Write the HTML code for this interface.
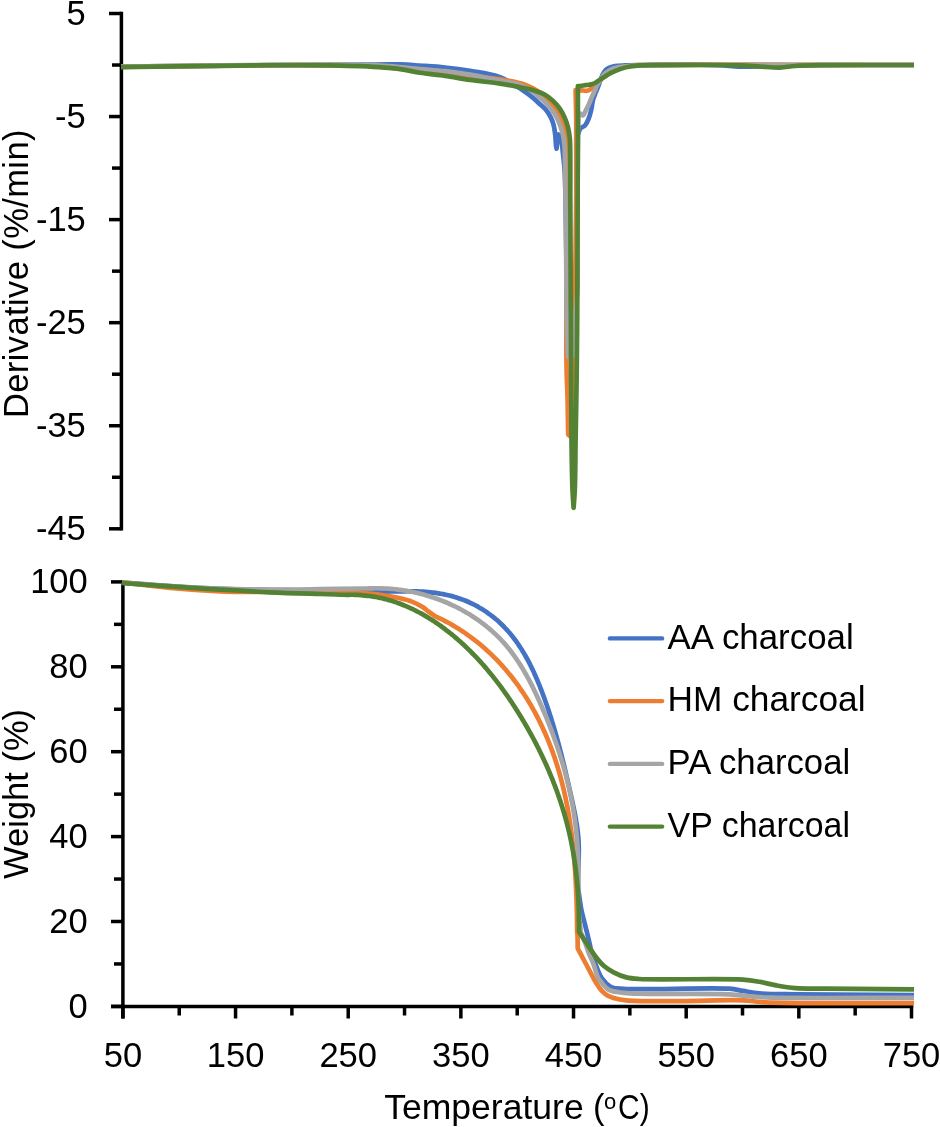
<!DOCTYPE html>
<html><head><meta charset="utf-8"><title>TGA / DTG charcoal</title>
<style>
html,body{margin:0;padding:0;background:#fff;}
body{width:940px;height:1127px;overflow:hidden;}
svg{display:block;will-change:transform;}
text{font-family:"Liberation Sans",sans-serif;fill:#000;}
</style></head><body>
<svg width="940" height="1127" viewBox="0 0 940 1127">
<rect width="940" height="1127" fill="#fff"/>

<g stroke="#000" stroke-width="3.5" fill="none">
<line x1="121.4" y1="11.75" x2="121.4" y2="530.55"/>
<line x1="109" y1="13.50" x2="121.4" y2="13.50"/>
<line x1="109" y1="116.56" x2="121.4" y2="116.56"/>
<line x1="109" y1="219.62" x2="121.4" y2="219.62"/>
<line x1="109" y1="322.68" x2="121.4" y2="322.68"/>
<line x1="109" y1="425.74" x2="121.4" y2="425.74"/>
<line x1="109" y1="528.80" x2="121.4" y2="528.80"/>
<line x1="112" y1="65.03" x2="121.4" y2="65.03"/>
<line x1="112" y1="168.09" x2="121.4" y2="168.09"/>
<line x1="112" y1="271.15" x2="121.4" y2="271.15"/>
<line x1="112" y1="374.21" x2="121.4" y2="374.21"/>
<line x1="112" y1="477.27" x2="121.4" y2="477.27"/>
<line x1="122.9" y1="580.15" x2="122.9" y2="1018.5"/>
<line x1="111" y1="1006.4" x2="913.25" y2="1006.4"/>
<line x1="111" y1="1006.40" x2="122.9" y2="1006.40"/>
<line x1="111" y1="921.50" x2="122.9" y2="921.50"/>
<line x1="111" y1="836.60" x2="122.9" y2="836.60"/>
<line x1="111" y1="751.70" x2="122.9" y2="751.70"/>
<line x1="111" y1="666.80" x2="122.9" y2="666.80"/>
<line x1="111" y1="581.90" x2="122.9" y2="581.90"/>
<line x1="114" y1="963.95" x2="122.9" y2="963.95"/>
<line x1="114" y1="879.05" x2="122.9" y2="879.05"/>
<line x1="114" y1="794.15" x2="122.9" y2="794.15"/>
<line x1="114" y1="709.25" x2="122.9" y2="709.25"/>
<line x1="114" y1="624.35" x2="122.9" y2="624.35"/>
<line x1="122.90" y1="1006.4" x2="122.90" y2="1018.5"/>
<line x1="235.56" y1="1006.4" x2="235.56" y2="1018.5"/>
<line x1="348.21" y1="1006.4" x2="348.21" y2="1018.5"/>
<line x1="460.87" y1="1006.4" x2="460.87" y2="1018.5"/>
<line x1="573.53" y1="1006.4" x2="573.53" y2="1018.5"/>
<line x1="686.19" y1="1006.4" x2="686.19" y2="1018.5"/>
<line x1="798.84" y1="1006.4" x2="798.84" y2="1018.5"/>
<line x1="911.50" y1="1006.4" x2="911.50" y2="1018.5"/>
<line x1="179.23" y1="1006.4" x2="179.23" y2="1015.5"/>
<line x1="291.89" y1="1006.4" x2="291.89" y2="1015.5"/>
<line x1="404.54" y1="1006.4" x2="404.54" y2="1015.5"/>
<line x1="517.20" y1="1006.4" x2="517.20" y2="1015.5"/>
<line x1="629.86" y1="1006.4" x2="629.86" y2="1015.5"/>
<line x1="742.51" y1="1006.4" x2="742.51" y2="1015.5"/>
<line x1="855.17" y1="1006.4" x2="855.17" y2="1015.5"/>
</g>
<g>
<path fill="none" stroke="#4472C4" stroke-width="4.7" stroke-linejoin="round" stroke-linecap="butt" d="M121.00,66.80C147.33,66.47 172.12,66.09 200.00,65.80C231.37,65.48 268.84,65.21 300.00,65.00C327.34,64.82 358.86,64.73 377.00,64.60C386.91,64.53 392.60,64.21 400.00,64.40C406.90,64.58 412.96,65.12 420.00,65.60C427.87,66.14 436.68,66.62 445.00,67.50C453.35,68.38 461.32,69.40 470.00,70.90C479.57,72.55 491.08,73.84 500.00,77.20C507.96,80.20 515.22,85.26 521.30,89.20C526.19,92.37 530.62,95.76 534.00,98.60C536.45,100.65 538.03,102.47 540.00,104.30C541.86,106.03 543.80,107.31 545.50,109.30C547.44,111.57 549.42,114.66 550.80,117.40C552.06,119.90 552.88,122.28 553.60,125.00C554.39,127.98 554.79,131.22 555.20,134.60C555.65,138.34 555.80,142.53 556.10,146.50C556.27,147.20 556.43,147.90 556.60,148.60C556.87,146.07 557.05,143.43 557.40,141.00C557.73,138.74 558.20,136.67 558.60,134.50C559.17,135.50 559.81,136.31 560.30,137.50C560.93,139.03 561.40,140.88 561.80,143.00C562.34,145.82 562.50,149.23 562.90,153.00C563.42,157.92 564.15,162.83 564.60,170.00C565.37,182.27 565.57,202.57 565.90,220.00C566.26,239.09 566.37,260.91 566.60,280.00C566.81,297.43 566.79,316.71 567.20,330.00C567.47,338.82 567.93,344.67 568.30,352.00C569.53,352.00 570.96,352.97 572.00,352.00C575.90,348.35 574.64,320.15 575.50,300.00C576.69,272.08 576.92,229.76 577.30,200.00C577.61,176.01 577.63,156.67 577.80,135.00C578.67,132.83 579.07,130.12 580.40,128.50C581.57,127.07 583.71,126.90 585.00,125.50C586.49,123.87 587.51,121.40 588.50,119.00C589.62,116.29 590.46,113.10 591.20,110.00C591.97,106.78 592.20,103.01 593.00,100.00C593.69,97.43 594.64,95.23 595.50,93.00C596.31,90.91 597.19,89.09 598.00,87.00C598.86,84.77 599.64,82.23 600.50,80.00C601.31,77.91 602.01,75.77 603.00,74.00C603.88,72.42 604.80,70.93 606.00,69.80C607.15,68.72 608.54,67.93 610.00,67.30C611.53,66.64 613.03,66.31 615.00,66.00C617.74,65.57 621.33,65.55 625.00,65.40C629.49,65.22 633.33,65.19 640.00,65.10C653.33,64.92 685.36,64.57 700.00,64.70C708.45,64.78 713.34,64.88 720.00,65.20C726.67,65.52 733.33,66.42 740.00,66.60C746.66,66.78 752.66,66.48 760.00,66.30C768.99,66.08 776.59,65.54 790.00,65.30C817.25,64.81 872.67,65.10 914.00,65.00"/>
<path fill="none" stroke="#ED7D31" stroke-width="4.7" stroke-linejoin="round" stroke-linecap="butt" d="M121.00,66.60C147.33,66.33 172.12,66.02 200.00,65.80C231.37,65.55 268.52,65.14 300.00,65.20C328.15,65.26 357.94,64.52 380.00,66.00C395.66,67.05 408.21,69.79 420.00,71.00C429.30,71.95 436.68,72.13 445.00,73.00C453.34,73.87 461.28,75.19 470.00,76.20C479.54,77.30 490.45,77.76 500.00,79.30C508.89,80.73 518.34,82.29 525.50,84.90C531.17,86.97 535.83,89.66 540.00,92.50C543.63,94.97 546.52,97.43 549.40,100.60C552.53,104.05 555.69,108.52 557.90,112.60C559.92,116.33 561.09,120.24 562.40,124.00C563.64,127.57 564.80,131.03 565.60,134.60C566.39,138.13 566.88,140.98 567.20,145.30C567.68,151.82 567.29,161.37 567.20,170.00C567.10,179.51 566.74,187.08 566.60,200.00C566.34,223.59 566.46,276.41 566.40,300.00C566.37,312.92 566.28,319.28 566.30,330.00C566.33,342.38 566.35,357.63 566.60,370.00C566.82,380.72 567.36,390.45 567.60,400.00C567.81,408.71 567.88,418.64 568.00,425.00C568.07,428.92 568.13,431.33 568.20,434.50C568.73,435.00 569.27,435.50 569.80,436.00C571.00,433.67 572.59,432.26 573.40,429.00C574.96,422.74 573.66,412.07 573.80,400.00C574.04,379.96 574.26,349.36 574.60,320.00C575.02,284.04 575.96,235.96 576.20,200.00C576.40,170.64 576.40,140.26 576.20,120.00C576.08,107.60 575.80,100.00 575.60,90.00C577.50,90.10 579.38,90.18 581.30,90.30C583.25,90.42 585.35,91.06 587.20,90.70C589.01,90.34 590.81,89.26 592.30,88.20C593.73,87.18 594.74,85.76 596.00,84.50C597.31,83.19 598.59,81.91 600.00,80.50C601.57,78.93 603.27,76.95 605.00,75.50C606.61,74.15 607.97,73.10 610.00,72.00C612.69,70.54 616.62,69.00 620.00,68.00C623.29,67.02 626.65,66.47 630.00,66.00C633.32,65.54 634.40,65.43 640.00,65.20C669.29,64.02 822.67,65.07 914.00,65.00"/>
<path fill="none" stroke="#A5A5A5" stroke-width="4.7" stroke-linejoin="round" stroke-linecap="butt" d="M121.00,66.60C147.33,66.27 172.12,65.86 200.00,65.60C231.37,65.31 268.52,65.00 300.00,65.00C328.15,65.00 357.93,64.47 380.00,65.50C395.64,66.23 408.23,67.97 420.00,69.00C429.31,69.82 436.68,70.27 445.00,71.20C453.34,72.13 461.31,73.14 470.00,74.60C479.57,76.21 491.41,78.88 500.00,80.60C506.47,81.89 511.81,82.37 517.00,84.00C521.65,85.46 525.89,87.33 529.80,89.60C533.53,91.77 536.90,94.50 540.00,97.20C542.93,99.75 545.43,102.32 548.00,105.30C550.78,108.53 553.91,112.41 556.00,116.00C557.85,119.18 559.03,122.42 560.20,125.60C561.31,128.61 562.19,131.44 562.90,134.60C563.66,137.99 564.15,141.44 564.50,145.30C564.91,149.80 564.86,153.90 565.00,160.00C565.23,170.06 565.32,185.32 565.50,200.00C565.72,217.98 566.00,240.00 566.20,260.00C566.40,280.00 566.42,305.36 566.70,320.00C566.86,328.45 567.05,333.64 567.30,340.00C567.53,345.79 567.83,351.07 568.10,356.60C569.93,356.23 571.77,355.87 573.60,355.50C573.73,347.00 573.72,336.10 574.00,330.00C574.16,326.58 574.40,324.67 574.60,322.00C575.53,311.33 576.89,301.27 577.40,290.00C577.97,277.42 577.44,266.91 577.50,250.00C577.60,220.72 577.55,151.15 578.00,130.00C578.16,122.40 578.40,119.67 578.60,114.50C579.20,114.23 579.76,113.65 580.40,113.70C581.20,113.76 582.20,115.60 583.00,115.40C584.13,115.12 585.10,111.67 586.00,110.00C586.77,108.57 587.40,107.49 588.10,106.00C588.94,104.22 589.85,101.81 590.60,100.00C591.22,98.50 591.64,97.38 592.30,95.90C593.10,94.10 594.32,91.72 595.10,90.00C595.69,88.69 595.92,87.86 596.60,86.50C597.62,84.45 599.41,81.27 600.90,79.00C602.22,76.98 603.43,75.03 605.00,73.50C606.48,72.06 608.28,70.93 610.00,70.00C611.62,69.13 613.01,68.56 615.00,68.00C617.73,67.23 621.32,66.73 625.00,66.30C629.48,65.77 631.89,65.57 640.00,65.30C674.63,64.13 822.67,65.10 914.00,65.00"/>
<path fill="none" stroke="#548235" stroke-width="4.7" stroke-linejoin="round" stroke-linecap="butt" d="M121.00,67.10C154.00,66.67 191.11,66.16 220.00,65.80C242.49,65.52 260.91,65.17 280.00,65.10C297.43,65.03 315.45,65.05 330.00,65.30C341.27,65.49 349.29,65.65 360.00,66.20C372.38,66.83 388.99,67.69 400.00,69.10C407.84,70.11 412.94,71.73 420.00,72.80C427.85,74.00 436.68,74.62 445.00,75.80C453.35,76.98 461.27,78.65 470.00,79.90C479.53,81.27 491.42,82.32 500.00,83.60C506.48,84.57 511.35,85.47 517.00,86.60C522.68,87.74 529.00,88.87 534.00,90.40C538.12,91.66 541.76,92.89 545.00,94.70C547.95,96.35 550.39,98.37 552.80,100.60C555.27,102.89 557.63,105.48 559.60,108.30C561.61,111.17 563.28,114.44 564.70,117.70C566.12,120.97 567.25,124.47 568.10,127.90C568.94,131.27 569.42,134.04 569.80,138.10C570.36,144.01 570.20,151.61 570.30,160.00C570.43,171.34 570.26,183.09 570.30,200.00C570.37,229.28 570.70,280.00 570.90,320.00C571.10,360.00 571.11,408.62 571.50,440.00C571.75,460.26 571.99,477.55 572.50,490.00C572.80,497.44 573.23,501.87 573.60,507.80C574.00,501.87 574.49,497.44 574.80,490.00C575.32,477.55 575.32,457.43 575.60,440.00C575.91,420.91 576.33,400.00 576.60,380.00C576.87,360.00 577.04,343.43 577.20,320.00C577.42,286.86 577.48,231.38 577.60,200.00C577.67,179.74 577.75,167.69 577.80,150.00C577.86,129.98 577.87,107.33 577.90,86.00C578.60,86.00 579.14,86.06 580.00,86.00C581.40,85.90 583.76,85.44 585.50,85.20C587.07,84.98 588.48,84.94 590.00,84.60C591.64,84.23 593.39,83.79 595.00,83.00C596.73,82.16 598.32,80.69 600.00,79.60C601.66,78.52 603.33,77.53 605.00,76.50C606.67,75.47 608.00,74.44 610.00,73.40C612.72,71.98 616.62,70.26 620.00,69.10C623.29,67.97 626.65,67.13 630.00,66.50C633.31,65.87 636.09,65.55 640.00,65.30C645.51,64.94 651.11,65.13 660.00,65.10C677.78,65.03 722.23,64.75 740.00,65.30C748.89,65.58 753.33,66.12 760.00,66.50C766.67,66.88 773.82,67.76 780.00,67.60C785.36,67.46 789.36,66.39 795.00,66.00C802.27,65.50 809.00,65.39 820.00,65.20C841.32,64.84 882.67,65.07 914.00,65.00"/>
<path fill="none" stroke="#4472C4" stroke-width="4.7" stroke-linejoin="round" stroke-linecap="butt" d="M121.90,582.60C137.93,583.80 153.81,585.16 170.00,586.20C186.50,587.26 203.33,588.27 220.00,588.90C236.66,589.53 253.33,589.73 270.00,590.00C286.67,590.27 303.77,590.27 320.00,590.50C335.40,590.71 359.24,591.02 365.00,591.30C366.37,591.37 366.69,591.46 367.54,591.51C368.38,591.55 369.22,591.56 370.06,591.58C370.90,591.60 371.74,591.61 372.59,591.63C373.43,591.64 374.27,591.65 375.11,591.65C375.95,591.66 376.79,591.66 377.63,591.66C378.48,591.66 379.32,591.66 380.16,591.65C381.00,591.65 381.84,591.64 382.68,591.63C383.53,591.62 384.37,591.61 385.21,591.59C386.05,591.58 386.89,591.57 387.73,591.55C388.58,591.54 389.42,591.52 390.26,591.51C391.10,591.49 391.94,591.47 392.79,591.46C393.63,591.44 394.47,591.42 395.31,591.41C396.16,591.39 397.00,591.38 397.84,591.36C398.68,591.35 399.52,591.34 400.37,591.32C401.21,591.31 402.05,591.30 402.89,591.29C403.73,591.29 404.58,591.28 405.42,591.28C406.26,591.27 407.10,591.27 407.95,591.27C408.79,591.27 409.63,591.28 410.47,591.29C411.31,591.29 412.16,591.30 413.00,591.32C413.84,591.33 414.68,591.35 415.53,591.38C416.37,591.40 417.21,591.42 418.05,591.46C418.89,591.49 419.74,591.53 420.58,591.57C421.42,591.61 422.26,591.66 423.10,591.71C423.95,591.76 424.79,591.82 425.63,591.88C426.47,591.95 427.31,592.02 428.15,592.09C429.00,592.17 429.84,592.25 430.68,592.34C431.52,592.43 432.35,592.52 433.19,592.63C434.03,592.73 434.87,592.84 435.70,592.95C436.54,593.07 437.38,593.19 438.21,593.32C439.04,593.45 439.88,593.58 440.71,593.73C441.54,593.87 442.37,594.02 443.20,594.18C444.03,594.34 444.85,594.51 445.68,594.68C446.50,594.86 447.33,595.04 448.15,595.23C448.97,595.42 449.79,595.62 450.61,595.83C451.42,596.04 452.24,596.25 453.05,596.48C453.86,596.70 454.67,596.94 455.48,597.18C456.29,597.42 457.09,597.67 457.89,597.93C458.69,598.19 459.49,598.46 460.29,598.74C461.09,599.02 461.88,599.31 462.67,599.61C463.46,599.91 464.24,600.21 465.03,600.53C465.81,600.85 466.59,601.17 467.37,601.51C468.14,601.84 468.92,602.18 469.68,602.54C470.45,602.89 471.22,603.25 471.98,603.62C472.74,603.99 473.50,604.37 474.25,604.75C475.00,605.14 475.75,605.54 476.49,605.94C477.24,606.34 477.98,606.75 478.71,607.17C479.45,607.59 480.18,608.02 480.90,608.46C481.62,608.89 482.34,609.34 483.06,609.79C483.77,610.24 484.48,610.70 485.19,611.16C485.89,611.63 486.59,612.10 487.28,612.59C487.98,613.07 488.67,613.56 489.35,614.05C490.03,614.55 490.71,615.05 491.38,615.57C492.05,616.08 492.71,616.59 493.37,617.12C494.03,617.64 494.68,618.18 495.32,618.71C495.97,619.25 496.61,619.80 497.24,620.35C497.87,620.90 498.50,621.46 499.12,622.02C499.73,622.59 500.35,623.16 500.95,623.74C501.56,624.32 502.15,624.90 502.75,625.49C503.34,626.08 503.92,626.68 504.50,627.28C505.08,627.88 505.65,628.49 506.21,629.10C506.78,629.71 507.34,630.33 507.89,630.96C508.44,631.58 508.98,632.21 509.52,632.85C510.06,633.49 510.60,634.13 511.12,634.77C511.65,635.42 512.17,636.07 512.69,636.73C513.20,637.38 513.71,638.05 514.21,638.71C514.72,639.38 515.21,640.05 515.70,640.72C516.20,641.40 516.68,642.08 517.16,642.77C517.64,643.45 518.12,644.14 518.59,644.83C519.06,645.53 519.52,646.23 519.98,646.93C520.44,647.63 520.89,648.34 521.34,649.05C521.79,649.76 522.23,650.47 522.67,651.19C523.11,651.91 523.54,652.63 523.97,653.35C524.40,654.08 524.82,654.81 525.24,655.54C525.66,656.27 526.07,657.01 526.48,657.75C526.89,658.49 527.29,659.23 527.69,659.97C528.09,660.72 528.49,661.47 528.88,662.22C529.27,662.97 529.66,663.72 530.04,664.48C530.42,665.24 530.80,666.00 531.18,666.76C531.55,667.52 531.92,668.29 532.29,669.05C532.65,669.82 533.02,670.59 533.37,671.36C533.73,672.13 534.09,672.90 534.44,673.68C534.79,674.46 535.14,675.23 535.48,676.01C535.83,676.79 536.17,677.57 536.50,678.36C536.84,679.14 537.17,679.92 537.50,680.71C537.83,681.49 538.16,682.28 538.48,683.07C538.81,683.86 539.13,684.65 539.45,685.44C539.76,686.23 540.08,687.02 540.39,687.82C540.70,688.61 541.01,689.40 541.32,690.20C541.62,690.99 541.93,691.79 542.23,692.58C542.53,693.38 542.83,694.18 543.12,694.97C543.42,695.77 543.71,696.57 544.00,697.37C544.29,698.16 544.58,698.96 544.87,699.76C545.16,700.56 545.44,701.36 545.72,702.16C546.00,702.96 546.28,703.76 546.56,704.56C546.83,705.36 547.11,706.16 547.38,706.96C547.65,707.76 547.92,708.56 548.19,709.36C548.46,710.16 548.73,710.96 548.99,711.77C549.25,712.57 549.52,713.37 549.78,714.17C550.04,714.98 550.29,715.78 550.55,716.58C550.81,717.39 551.06,718.19 551.31,718.99C551.56,719.80 551.81,720.60 552.06,721.41C552.31,722.21 552.56,723.02 552.80,723.82C553.04,724.63 553.29,725.44 553.53,726.24C553.77,727.05 554.01,727.85 554.24,728.66C554.48,729.47 554.72,730.28 554.95,731.08C555.19,731.89 555.42,732.70 555.65,733.51C555.88,734.32 556.11,735.12 556.34,735.93C556.56,736.74 556.79,737.55 557.01,738.36C557.24,739.17 557.46,739.98 557.68,740.79C557.90,741.60 558.12,742.41 558.34,743.22C558.56,744.03 558.78,744.84 559.00,745.65C559.21,746.47 559.43,747.28 559.64,748.09C559.85,748.90 560.07,749.71 560.28,750.53C560.49,751.34 560.70,752.15 560.91,752.96C561.11,753.78 561.32,754.59 561.53,755.40C561.73,756.22 561.94,757.03 562.14,757.85C562.35,758.66 562.55,759.47 562.75,760.29C562.95,761.10 563.15,761.92 563.35,762.73C563.56,763.55 563.75,764.36 563.95,765.18C564.15,766.00 564.35,766.81 564.54,767.63C564.74,768.44 564.94,769.26 565.13,770.08C565.33,770.90 565.52,771.71 565.71,772.53C565.91,773.35 566.10,774.16 566.29,774.98C566.48,775.80 566.67,776.62 566.86,777.44C567.06,778.25 567.24,779.07 567.43,779.89C567.62,780.71 567.81,781.53 568.00,782.35C568.19,783.17 568.38,783.99 568.56,784.81C568.75,785.63 568.94,786.45 569.12,787.27C569.31,788.09 569.50,788.91 569.68,789.73C569.87,790.55 570.05,791.37 570.24,792.19C570.42,793.01 570.61,793.83 570.79,794.66C570.98,795.48 571.16,796.30 571.34,797.12C571.53,797.94 571.71,798.76 571.89,799.59C572.08,800.41 572.26,801.23 572.44,802.06C572.62,802.88 572.80,803.70 572.97,804.53C573.15,805.35 573.32,806.17 573.50,807.00C573.67,807.82 573.84,808.65 574.01,809.47C574.18,810.30 574.35,811.12 574.51,811.95C574.67,812.77 574.84,813.60 574.99,814.42C575.15,815.25 575.31,816.08 575.46,816.91C575.61,817.73 575.76,818.56 575.90,819.39C576.04,820.22 576.18,821.05 576.32,821.88C576.46,822.70 576.59,823.53 576.71,824.36C576.84,825.20 576.96,826.03 577.08,826.86C577.20,827.69 577.31,828.52 577.42,829.35C577.53,830.19 577.63,831.02 577.72,831.85C577.82,832.69 577.91,833.52 577.99,834.36C578.08,835.19 578.16,836.03 578.23,836.86C578.30,837.70 578.37,838.54 578.43,839.37C578.48,840.21 578.54,841.05 578.58,841.89C578.63,842.73 578.66,843.57 578.69,844.41C578.73,845.25 578.75,846.09 578.76,846.93C578.78,847.77 578.79,848.61 578.79,849.46C578.79,850.30 578.79,851.14 578.78,851.99C578.78,852.83 578.76,853.68 578.75,854.52C578.73,855.37 578.71,856.21 578.68,857.06C578.66,857.90 578.63,858.75 578.60,859.60C578.58,860.44 578.54,861.29 578.51,862.14C578.48,862.98 578.45,863.83 578.41,864.68C578.38,865.52 578.34,866.37 578.31,867.22C578.28,868.06 578.25,868.91 578.22,869.76C578.18,870.60 578.16,871.45 578.13,872.30C578.10,873.14 578.08,873.99 578.06,874.84C578.04,875.68 578.02,876.53 578.01,877.37C578.00,878.22 577.99,879.06 577.99,879.91C577.99,880.75 577.99,881.59 578.00,882.44C578.01,883.28 578.03,884.12 578.05,884.97C578.07,885.81 578.08,886.65 578.14,887.49C578.20,888.33 578.31,889.16 578.40,890.00C579.40,896.67 580.24,904.14 581.40,910.00C582.33,914.68 583.37,917.91 584.50,922.50C585.88,928.11 587.77,935.55 589.10,941.20C590.20,945.86 590.85,949.95 592.00,954.00C593.07,957.76 594.19,960.93 595.70,964.70C597.46,969.09 599.32,974.86 602.10,978.70C604.58,982.12 607.54,985.29 611.10,987.00C614.75,988.75 617.49,988.44 623.80,988.90C641.88,990.23 710.56,987.24 729.20,988.70C735.99,989.23 738.19,990.15 743.00,990.90C748.28,991.72 752.89,992.82 759.60,993.40C769.79,994.28 781.95,994.05 798.30,994.30C826.56,994.74 875.43,994.90 914.00,995.20"/>
<path fill="none" stroke="#ED7D31" stroke-width="4.7" stroke-linejoin="round" stroke-linecap="butt" d="M121.90,582.30C137.93,584.20 153.79,586.51 170.00,588.00C186.49,589.52 202.56,590.62 220.00,591.30C239.08,592.04 262.82,591.87 280.00,592.00C292.93,592.09 302.67,592.02 314.00,592.10C325.33,592.18 338.61,592.20 348.00,592.50C354.64,592.71 359.34,592.97 365.00,593.40C370.67,593.83 376.35,594.34 382.00,595.10C387.68,595.87 393.75,596.82 399.00,598.00C403.62,599.04 407.88,600.02 411.90,601.60C415.71,603.09 419.72,605.27 422.60,607.10C424.75,608.47 426.11,609.90 427.90,611.20C429.65,612.47 431.95,613.89 433.20,614.80C433.91,615.32 434.22,615.70 434.84,616.08C435.54,616.50 436.43,616.80 437.23,617.17C438.02,617.54 438.81,617.92 439.59,618.30C440.38,618.68 441.16,619.06 441.94,619.45C442.72,619.84 443.49,620.23 444.26,620.63C445.03,621.03 445.80,621.43 446.56,621.84C447.32,622.24 448.08,622.65 448.83,623.07C449.59,623.48 450.34,623.90 451.09,624.33C451.83,624.75 452.58,625.18 453.32,625.61C454.06,626.05 454.79,626.48 455.53,626.92C456.26,627.37 456.99,627.81 457.71,628.26C458.44,628.71 459.16,629.16 459.87,629.62C460.59,630.08 461.30,630.54 462.01,631.01C462.72,631.47 463.43,631.94 464.13,632.42C464.83,632.89 465.53,633.37 466.23,633.85C466.92,634.34 467.61,634.82 468.30,635.31C468.99,635.80 469.67,636.30 470.35,636.80C471.03,637.29 471.71,637.79 472.38,638.30C473.05,638.81 473.72,639.32 474.39,639.83C475.05,640.34 475.72,640.86 476.37,641.38C477.03,641.90 477.69,642.43 478.34,642.96C478.99,643.48 479.64,644.02 480.28,644.55C480.92,645.09 481.56,645.63 482.20,646.17C482.83,646.71 483.47,647.26 484.10,647.81C484.72,648.36 485.35,648.91 485.97,649.47C486.59,650.03 487.21,650.59 487.83,651.15C488.44,651.72 489.05,652.29 489.66,652.86C490.27,653.43 490.87,654.00 491.47,654.58C492.07,655.16 492.67,655.74 493.26,656.33C493.85,656.91 494.44,657.50 495.03,658.09C495.61,658.68 496.19,659.28 496.77,659.87C497.35,660.47 497.93,661.07 498.50,661.68C499.07,662.28 499.64,662.89 500.20,663.50C500.76,664.11 501.32,664.72 501.88,665.34C502.44,665.96 502.99,666.58 503.54,667.20C504.09,667.82 504.64,668.45 505.18,669.08C505.73,669.71 506.27,670.34 506.80,670.97C507.34,671.61 507.87,672.25 508.40,672.89C508.93,673.53 509.45,674.17 509.97,674.82C510.50,675.47 511.02,676.12 511.53,676.77C512.05,677.42 512.56,678.08 513.06,678.73C513.57,679.39 514.08,680.05 514.58,680.71C515.08,681.38 515.58,682.04 516.07,682.71C516.56,683.38 517.06,684.05 517.54,684.73C518.03,685.40 518.51,686.08 518.99,686.76C519.47,687.43 519.95,688.12 520.42,688.80C520.90,689.49 521.37,690.17 521.83,690.86C522.30,691.55 522.76,692.24 523.22,692.94C523.68,693.63 524.14,694.33 524.59,695.03C525.04,695.72 525.49,696.43 525.94,697.13C526.39,697.83 526.83,698.54 527.27,699.25C527.71,699.96 528.14,700.67 528.57,701.38C529.01,702.09 529.44,702.81 529.86,703.52C530.29,704.24 530.71,704.96 531.13,705.68C531.55,706.40 531.96,707.13 532.38,707.85C532.79,708.58 533.20,709.31 533.60,710.04C534.01,710.77 534.41,711.50 534.81,712.23C535.21,712.97 535.60,713.70 535.99,714.44C536.39,715.18 536.78,715.92 537.16,716.66C537.55,717.40 537.93,718.15 538.31,718.89C538.69,719.64 539.06,720.38 539.43,721.13C539.81,721.88 540.17,722.63 540.54,723.39C540.91,724.14 541.27,724.89 541.63,725.65C541.99,726.41 542.34,727.16 542.69,727.92C543.05,728.68 543.40,729.44 543.74,730.21C544.09,730.97 544.43,731.73 544.77,732.50C545.11,733.27 545.44,734.03 545.78,734.80C546.11,735.57 546.44,736.34 546.77,737.12C547.09,737.89 547.41,738.66 547.73,739.44C548.05,740.21 548.37,740.99 548.68,741.77C549.00,742.55 549.31,743.32 549.61,744.11C549.92,744.89 550.22,745.67 550.52,746.45C550.83,747.23 551.12,748.02 551.42,748.81C551.71,749.59 552.00,750.38 552.29,751.17C552.58,751.95 552.86,752.74 553.14,753.53C553.42,754.33 553.70,755.12 553.98,755.91C554.25,756.70 554.52,757.50 554.79,758.29C555.06,759.09 555.32,759.88 555.59,760.68C555.85,761.48 556.11,762.28 556.36,763.07C556.62,763.87 556.87,764.67 557.12,765.48C557.37,766.28 557.62,767.08 557.86,767.88C558.10,768.68 558.35,769.49 558.58,770.29C558.82,771.10 559.05,771.90 559.29,772.71C559.52,773.52 559.74,774.32 559.97,775.13C560.20,775.94 560.42,776.75 560.64,777.56C560.86,778.37 561.07,779.18 561.29,779.99C561.50,780.80 561.71,781.61 561.92,782.43C562.13,783.24 562.33,784.05 562.54,784.87C562.74,785.68 562.94,786.50 563.13,787.31C563.33,788.13 563.53,788.95 563.72,789.76C563.91,790.58 564.10,791.40 564.28,792.22C564.47,793.04 564.65,793.86 564.83,794.68C565.01,795.50 565.19,796.32 565.37,797.14C565.54,797.96 565.72,798.79 565.89,799.61C566.06,800.43 566.22,801.25 566.39,802.08C566.55,802.90 566.72,803.73 566.88,804.55C567.04,805.38 567.20,806.20 567.35,807.03C567.51,807.86 567.66,808.68 567.81,809.51C567.96,810.34 568.11,811.17 568.25,812.00C568.40,812.82 568.54,813.65 568.68,814.48C568.82,815.31 568.96,816.14 569.10,816.97C569.24,817.80 569.37,818.63 569.50,819.47C569.63,820.30 569.76,821.13 569.89,821.96C570.02,822.79 570.14,823.63 570.27,824.46C570.39,825.29 570.51,826.13 570.63,826.96C570.75,827.79 570.86,828.63 570.98,829.46C571.09,830.30 571.20,831.13 571.31,831.97C571.43,832.80 571.53,833.64 571.64,834.47C571.75,835.31 571.85,836.14 571.95,836.98C572.05,837.82 572.16,838.65 572.25,839.49C572.35,840.33 572.45,841.16 572.54,842.00C572.64,842.84 572.73,843.68 572.82,844.51C572.91,845.35 573.00,846.19 573.09,847.03C573.17,847.87 573.26,848.70 573.34,849.54C573.43,850.38 573.51,851.22 573.59,852.06C573.67,852.90 573.75,853.74 573.82,854.58C573.90,855.41 573.97,856.25 574.05,857.09C574.12,857.93 574.19,858.77 574.26,859.61C574.33,860.45 574.40,861.29 574.47,862.13C574.53,862.97 574.60,863.81 574.66,864.65C574.73,865.49 574.79,866.33 574.85,867.17C574.91,868.01 574.97,868.85 575.02,869.69C575.08,870.53 575.14,871.37 575.19,872.21C575.25,873.04 575.30,873.88 575.35,874.72C575.40,875.56 575.45,876.40 575.50,877.24C575.55,878.08 575.60,878.92 575.65,879.76C575.69,880.60 575.74,881.44 575.78,882.28C575.82,883.11 575.87,883.95 575.91,884.79C575.95,885.63 575.99,886.47 576.03,887.31C576.07,888.14 576.10,888.98 576.14,889.82C576.18,890.66 576.21,891.50 576.25,892.33C576.28,893.17 576.31,894.01 576.35,894.84C576.38,895.68 576.41,896.52 576.44,897.35C576.47,898.19 576.50,899.03 576.53,899.86C576.55,900.70 576.58,901.53 576.61,902.37C576.63,903.20 576.66,904.04 576.68,904.87C576.70,905.71 576.73,906.54 576.75,907.37C576.77,908.21 576.79,909.04 576.81,909.87C576.83,910.71 576.85,911.54 576.87,912.37C576.89,913.20 576.91,914.04 576.93,914.87C576.94,915.70 576.96,916.53 576.98,917.36C576.99,918.19 577.01,919.02 577.02,919.85C577.03,920.68 577.05,921.51 577.06,922.34C577.07,923.16 577.09,923.99 577.10,924.82C577.11,925.65 577.12,926.47 577.13,927.30C577.14,928.13 577.15,928.95 577.16,929.78C577.17,930.60 577.13,931.41 577.19,932.25C577.24,933.14 577.42,933.74 577.50,935.00C577.68,937.77 577.63,943.87 577.70,948.30C580.47,953.53 583.21,958.74 586.00,964.00C588.81,969.31 592.14,975.88 594.50,980.00C596.03,982.68 597.15,984.54 598.50,986.50C599.69,988.23 600.71,989.77 602.10,991.20C603.53,992.68 605.15,994.10 607.00,995.20C608.96,996.37 610.99,997.12 613.60,997.90C617.12,998.95 620.63,999.80 626.40,1000.40C638.09,1001.61 661.41,1001.10 680.00,1001.10C700.15,1001.10 727.39,999.66 743.00,1000.30C752.27,1000.68 754.45,1001.87 765.10,1002.40C792.69,1003.77 864.37,1002.87 914.00,1003.10"/>
<path fill="none" stroke="#A5A5A5" stroke-width="4.7" stroke-linejoin="round" stroke-linecap="butt" d="M121.90,582.50C137.93,583.67 153.81,584.97 170.00,586.00C186.50,587.05 203.33,588.10 220.00,588.70C236.66,589.30 253.33,589.52 270.00,589.60C286.67,589.68 303.77,589.39 320.00,589.20C335.40,589.02 359.23,588.55 365.00,588.50C366.37,588.49 366.70,588.51 367.55,588.49C368.39,588.47 369.23,588.41 370.08,588.38C370.92,588.35 371.76,588.33 372.60,588.31C373.45,588.29 374.29,588.28 375.13,588.27C375.97,588.27 376.82,588.27 377.66,588.27C378.50,588.28 379.34,588.29 380.18,588.31C381.03,588.32 381.87,588.35 382.71,588.38C383.55,588.41 384.39,588.44 385.23,588.48C386.07,588.52 386.91,588.57 387.75,588.63C388.59,588.68 389.43,588.74 390.27,588.80C391.11,588.87 391.94,588.94 392.78,589.02C393.62,589.09 394.45,589.17 395.29,589.26C396.13,589.35 396.96,589.45 397.80,589.55C398.63,589.65 399.46,589.75 400.30,589.87C401.13,589.98 401.96,590.09 402.79,590.22C403.62,590.34 404.45,590.47 405.28,590.61C406.11,590.74 406.94,590.88 407.77,591.03C408.59,591.18 409.42,591.33 410.25,591.49C411.07,591.65 411.90,591.81 412.72,591.98C413.54,592.15 414.36,592.33 415.18,592.51C416.00,592.69 416.82,592.88 417.64,593.07C418.46,593.27 419.27,593.47 420.09,593.67C420.90,593.88 421.72,594.09 422.53,594.30C423.34,594.52 424.15,594.74 424.96,594.97C425.77,595.20 426.58,595.43 427.38,595.67C428.19,595.91 428.99,596.16 429.80,596.41C430.60,596.66 431.40,596.91 432.20,597.18C433.00,597.44 433.80,597.71 434.59,597.98C435.39,598.25 436.18,598.53 436.98,598.82C437.77,599.10 438.56,599.39 439.35,599.69C440.13,599.99 440.92,600.29 441.70,600.59C442.49,600.90 443.27,601.22 444.05,601.53C444.83,601.85 445.61,602.18 446.38,602.51C447.16,602.84 447.93,603.17 448.71,603.51C449.48,603.85 450.25,604.20 451.01,604.55C451.78,604.91 452.54,605.26 453.31,605.63C454.07,605.99 454.83,606.36 455.59,606.74C456.34,607.11 457.10,607.49 457.85,607.88C458.60,608.26 459.35,608.65 460.10,609.05C460.85,609.45 461.59,609.85 462.33,610.26C463.08,610.66 463.81,611.08 464.55,611.50C465.29,611.92 466.02,612.34 466.75,612.77C467.48,613.20 468.21,613.64 468.93,614.08C469.65,614.52 470.38,614.96 471.09,615.41C471.81,615.86 472.52,616.32 473.23,616.78C473.94,617.25 474.65,617.71 475.35,618.19C476.06,618.66 476.75,619.14 477.45,619.62C478.14,620.10 478.84,620.59 479.52,621.08C480.21,621.58 480.89,622.08 481.57,622.58C482.25,623.08 482.92,623.59 483.59,624.11C484.26,624.62 484.93,625.14 485.59,625.66C486.25,626.19 486.91,626.72 487.56,627.25C488.21,627.79 488.86,628.33 489.50,628.87C490.14,629.42 490.78,629.97 491.41,630.52C492.04,631.07 492.67,631.63 493.29,632.20C493.91,632.76 494.53,633.33 495.14,633.91C495.75,634.48 496.36,635.06 496.96,635.65C497.56,636.23 498.15,636.82 498.74,637.41C499.33,638.01 499.91,638.60 500.49,639.21C501.06,639.81 501.63,640.42 502.20,641.03C502.76,641.65 503.32,642.26 503.88,642.89C504.43,643.51 504.98,644.13 505.52,644.77C506.07,645.40 506.60,646.03 507.14,646.67C507.67,647.31 508.19,647.95 508.72,648.60C509.24,649.25 509.75,649.90 510.27,650.56C510.78,651.22 511.28,651.88 511.78,652.54C512.29,653.20 512.78,653.87 513.27,654.54C513.76,655.22 514.25,655.89 514.73,656.57C515.22,657.25 515.69,657.93 516.17,658.62C516.64,659.30 517.11,659.99 517.57,660.69C518.03,661.38 518.49,662.08 518.95,662.78C519.40,663.48 519.85,664.18 520.30,664.88C520.75,665.59 521.19,666.30 521.63,667.01C522.07,667.72 522.50,668.44 522.93,669.16C523.36,669.87 523.79,670.60 524.21,671.32C524.64,672.04 525.05,672.77 525.47,673.50C525.89,674.23 526.30,674.96 526.71,675.69C527.11,676.43 527.52,677.16 527.92,677.90C528.32,678.64 528.72,679.38 529.11,680.12C529.51,680.87 529.90,681.61 530.29,682.36C530.68,683.11 531.06,683.86 531.45,684.61C531.83,685.36 532.21,686.11 532.58,686.87C532.96,687.63 533.33,688.38 533.70,689.14C534.08,689.90 534.44,690.66 534.81,691.42C535.18,692.19 535.54,692.95 535.90,693.72C536.26,694.48 536.62,695.25 536.97,696.02C537.33,696.78 537.68,697.55 538.03,698.32C538.38,699.09 538.73,699.87 539.08,700.64C539.43,701.41 539.77,702.19 540.12,702.96C540.46,703.73 540.80,704.51 541.14,705.29C541.48,706.06 541.81,706.84 542.15,707.62C542.49,708.40 542.82,709.18 543.15,709.96C543.48,710.73 543.81,711.51 544.14,712.30C544.47,713.08 544.80,713.86 545.12,714.64C545.45,715.42 545.77,716.20 546.09,716.99C546.42,717.77 546.74,718.56 547.05,719.34C547.37,720.12 547.69,720.91 548.00,721.70C548.32,722.48 548.63,723.27 548.94,724.06C549.25,724.84 549.56,725.63 549.86,726.42C550.17,727.21 550.48,728.00 550.78,728.79C551.08,729.58 551.38,730.37 551.68,731.16C551.98,731.95 552.28,732.74 552.57,733.54C552.87,734.33 553.16,735.12 553.45,735.91C553.74,736.71 554.03,737.50 554.31,738.30C554.60,739.09 554.88,739.89 555.17,740.68C555.45,741.48 555.73,742.28 556.01,743.07C556.29,743.87 556.56,744.67 556.83,745.47C557.11,746.27 557.38,747.07 557.65,747.86C557.92,748.66 558.18,749.46 558.45,750.27C558.71,751.07 558.98,751.87 559.24,752.67C559.50,753.47 559.75,754.27 560.01,755.08C560.27,755.88 560.52,756.68 560.77,757.49C561.02,758.29 561.27,759.10 561.51,759.90C561.76,760.71 562.00,761.51 562.25,762.32C562.49,763.13 562.73,763.93 562.96,764.74C563.20,765.55 563.43,766.36 563.67,767.17C563.90,767.98 564.13,768.78 564.35,769.59C564.58,770.40 564.80,771.21 565.02,772.03C565.25,772.84 565.47,773.65 565.68,774.46C565.90,775.27 566.11,776.08 566.32,776.90C566.53,777.71 566.74,778.52 566.95,779.34C567.16,780.15 567.36,780.97 567.56,781.78C567.76,782.60 567.96,783.41 568.15,784.23C568.35,785.04 568.54,785.86 568.73,786.68C568.92,787.49 569.11,788.31 569.29,789.13C569.48,789.95 569.66,790.77 569.84,791.58C570.02,792.40 570.20,793.22 570.37,794.04C570.54,794.86 570.71,795.68 570.88,796.50C571.05,797.32 571.21,798.15 571.38,798.97C571.54,799.79 571.70,800.61 571.85,801.43C572.01,802.26 572.16,803.08 572.31,803.90C572.46,804.73 572.61,805.55 572.76,806.38C572.90,807.20 573.04,808.03 573.18,808.85C573.32,809.68 573.45,810.50 573.59,811.33C573.72,812.16 573.85,812.98 573.98,813.81C574.10,814.64 574.23,815.46 574.35,816.29C574.47,817.12 574.59,817.95 574.70,818.78C574.82,819.61 574.93,820.44 575.04,821.27C575.15,822.10 575.25,822.93 575.36,823.76C575.46,824.59 575.56,825.42 575.66,826.25C575.76,827.08 575.85,827.91 575.94,828.74C576.04,829.58 576.13,830.41 576.21,831.24C576.30,832.07 576.38,832.91 576.46,833.74C576.54,834.57 576.62,835.41 576.70,836.24C576.77,837.08 576.84,837.91 576.91,838.75C576.98,839.58 577.05,840.42 577.12,841.25C577.18,842.09 577.24,842.92 577.30,843.76C577.36,844.60 577.41,845.43 577.47,846.27C577.52,847.11 577.57,847.95 577.62,848.78C577.67,849.62 577.71,850.46 577.76,851.30C577.80,852.14 577.84,852.98 577.87,853.82C577.91,854.66 577.95,855.49 577.98,856.33C578.01,857.17 578.04,858.01 578.07,858.85C578.09,859.70 578.12,860.54 578.14,861.38C578.16,862.22 578.18,863.06 578.19,863.90C578.21,864.74 578.22,865.58 578.24,866.43C578.25,867.27 578.26,868.11 578.26,868.95C578.27,869.80 578.27,870.64 578.28,871.48C578.28,872.33 578.28,873.17 578.28,874.01C578.28,874.86 578.28,875.70 578.28,876.54C578.28,877.39 578.28,878.23 578.27,879.08C578.27,879.92 578.27,880.76 578.26,881.61C578.26,882.45 578.26,883.30 578.25,884.14C578.25,884.99 578.25,885.83 578.24,886.67C578.24,887.52 578.24,888.36 578.24,889.21C578.24,890.05 578.24,890.89 578.24,891.74C578.24,892.58 578.25,893.43 578.25,894.27C578.26,895.11 578.26,895.96 578.27,896.80C578.28,897.64 578.29,898.49 578.31,899.33C578.32,900.17 578.34,901.02 578.36,901.86C578.38,902.70 578.40,903.54 578.42,904.39C578.45,905.23 578.48,906.07 578.51,906.91C578.54,907.75 578.58,908.59 578.62,909.43C578.66,910.27 578.71,911.12 578.76,911.96C578.80,912.80 578.86,913.63 578.92,914.47C578.97,915.31 579.04,916.15 579.11,916.99C579.17,917.83 579.21,918.67 579.33,919.50C579.44,920.34 579.64,920.89 579.80,922.00C580.12,924.22 580.47,928.67 580.80,932.00C582.40,936.00 584.16,940.17 585.60,944.00C586.90,947.47 587.81,950.70 589.10,954.00C590.40,957.33 592.05,960.35 593.40,963.90C594.91,967.86 596.30,973.87 597.60,976.70C598.30,978.21 598.60,978.68 599.60,980.00C601.44,982.44 604.72,987.46 608.50,989.60C612.63,991.94 616.36,991.98 623.80,992.80C643.13,994.94 707.15,993.05 729.20,994.30C739.32,994.87 744.18,995.94 751.30,996.50C757.95,997.02 761.18,997.32 770.60,997.60C796.25,998.36 866.20,997.80 914.00,997.90"/>
<path fill="none" stroke="#548235" stroke-width="4.7" stroke-linejoin="round" stroke-linecap="butt" d="M121.90,583.00C137.93,584.13 153.81,585.31 170.00,586.40C186.50,587.51 203.33,588.62 220.00,589.60C236.66,590.58 253.33,591.57 270.00,592.30C286.66,593.03 305.73,593.55 320.00,594.00C330.68,594.33 343.89,594.78 348.00,594.80C349.16,594.81 349.46,594.77 350.23,594.76C351.08,594.76 352.00,594.76 352.88,594.77C353.76,594.78 354.64,594.80 355.52,594.82C356.39,594.85 357.26,594.89 358.13,594.93C359.00,594.97 359.87,595.03 360.73,595.09C361.60,595.15 362.46,595.22 363.32,595.29C364.18,595.37 365.03,595.45 365.89,595.55C366.74,595.64 367.59,595.74 368.44,595.85C369.29,595.96 370.13,596.08 370.98,596.20C371.82,596.32 372.66,596.46 373.50,596.60C374.33,596.74 375.17,596.88 376.00,597.04C376.83,597.19 377.66,597.36 378.49,597.53C379.31,597.70 380.14,597.87 380.96,598.06C381.78,598.24 382.60,598.43 383.41,598.63C384.23,598.83 385.04,599.04 385.85,599.25C386.66,599.46 387.47,599.68 388.27,599.91C389.08,600.14 389.88,600.37 390.68,600.61C391.48,600.85 392.28,601.10 393.07,601.35C393.87,601.61 394.66,601.87 395.45,602.14C396.23,602.40 397.02,602.68 397.80,602.96C398.59,603.24 399.37,603.53 400.15,603.82C400.92,604.11 401.70,604.41 402.47,604.72C403.24,605.02 404.01,605.33 404.78,605.65C405.55,605.97 406.31,606.29 407.07,606.62C407.83,606.95 408.59,607.29 409.35,607.63C410.11,607.97 410.86,608.32 411.61,608.67C412.36,609.03 413.11,609.38 413.85,609.75C414.60,610.11 415.34,610.48 416.08,610.86C416.82,611.23 417.56,611.62 418.29,612.00C419.03,612.39 419.76,612.78 420.49,613.18C421.22,613.57 421.94,613.98 422.67,614.38C423.39,614.79 424.11,615.20 424.83,615.62C425.55,616.04 426.27,616.46 426.98,616.89C427.69,617.31 428.40,617.75 429.11,618.18C429.82,618.62 430.52,619.06 431.22,619.51C431.92,619.95 432.62,620.41 433.32,620.86C434.02,621.32 434.71,621.78 435.40,622.24C436.09,622.70 436.78,623.17 437.47,623.65C438.15,624.12 438.83,624.60 439.51,625.08C440.19,625.56 440.87,626.04 441.55,626.53C442.22,627.02 442.89,627.52 443.56,628.01C444.23,628.51 444.90,629.01 445.56,629.52C446.23,630.02 446.89,630.53 447.55,631.05C448.20,631.56 448.86,632.08 449.51,632.59C450.16,633.11 450.82,633.64 451.46,634.17C452.11,634.69 452.75,635.22 453.40,635.76C454.04,636.29 454.68,636.83 455.31,637.37C455.95,637.91 456.59,638.45 457.22,639.00C457.85,639.55 458.48,640.10 459.10,640.65C459.73,641.21 460.35,641.76 460.97,642.32C461.59,642.89 462.21,643.45 462.83,644.02C463.44,644.58 464.05,645.15 464.66,645.73C465.27,646.30 465.88,646.87 466.49,647.45C467.09,648.03 467.69,648.62 468.29,649.20C468.89,649.79 469.49,650.37 470.08,650.97C470.68,651.56 471.27,652.15 471.86,652.75C472.45,653.34 473.04,653.94 473.62,654.55C474.20,655.15 474.79,655.75 475.37,656.36C475.94,656.97 476.52,657.58 477.09,658.20C477.67,658.81 478.24,659.43 478.81,660.04C479.38,660.66 479.94,661.28 480.51,661.91C481.07,662.53 481.63,663.16 482.19,663.79C482.75,664.42 483.31,665.05 483.86,665.68C484.42,666.32 484.97,666.96 485.52,667.59C486.07,668.23 486.61,668.88 487.16,669.52C487.70,670.16 488.24,670.81 488.78,671.46C489.32,672.11 489.86,672.76 490.39,673.41C490.93,674.06 491.46,674.72 491.99,675.38C492.52,676.03 493.05,676.69 493.57,677.36C494.10,678.02 494.62,678.68 495.14,679.35C495.66,680.01 496.18,680.68 496.69,681.35C497.21,682.02 497.72,682.69 498.23,683.37C498.74,684.04 499.25,684.72 499.76,685.40C500.26,686.07 500.77,686.75 501.27,687.44C501.77,688.12 502.27,688.80 502.76,689.49C503.26,690.17 503.75,690.86 504.25,691.55C504.74,692.24 505.23,692.93 505.72,693.62C506.20,694.31 506.69,695.01 507.17,695.70C507.65,696.40 508.13,697.10 508.61,697.79C509.09,698.49 509.57,699.19 510.04,699.90C510.52,700.60 510.99,701.30 511.46,702.01C511.93,702.71 512.39,703.42 512.86,704.12C513.32,704.83 513.79,705.54 514.25,706.25C514.71,706.96 515.17,707.67 515.62,708.39C516.08,709.10 516.53,709.81 516.98,710.53C517.44,711.24 517.89,711.96 518.33,712.68C518.78,713.40 519.23,714.12 519.67,714.84C520.11,715.56 520.55,716.28 520.99,717.00C521.43,717.72 521.87,718.45 522.30,719.17C522.74,719.90 523.17,720.62 523.60,721.35C524.03,722.07 524.46,722.80 524.88,723.53C525.31,724.26 525.74,724.99 526.16,725.72C526.58,726.45 527.00,727.18 527.42,727.91C527.83,728.64 528.25,729.38 528.66,730.11C529.08,730.84 529.49,731.58 529.90,732.32C530.30,733.05 530.71,733.79 531.12,734.53C531.52,735.26 531.92,736.00 532.32,736.74C532.72,737.48 533.12,738.22 533.51,738.97C533.91,739.71 534.30,740.45 534.69,741.19C535.09,741.94 535.47,742.68 535.86,743.43C536.25,744.17 536.63,744.92 537.01,745.67C537.39,746.42 537.77,747.16 538.15,747.91C538.53,748.66 538.90,749.41 539.28,750.16C539.65,750.92 540.02,751.67 540.39,752.42C540.75,753.17 541.12,753.93 541.48,754.68C541.85,755.44 542.21,756.19 542.57,756.95C542.92,757.71 543.28,758.47 543.63,759.22C543.99,759.98 544.34,760.74 544.69,761.50C545.04,762.26 545.38,763.03 545.73,763.79C546.07,764.55 546.41,765.31 546.75,766.08C547.09,766.84 547.43,767.61 547.76,768.38C548.09,769.14 548.43,769.91 548.76,770.68C549.09,771.44 549.41,772.21 549.74,772.98C550.06,773.75 550.38,774.52 550.70,775.30C551.02,776.07 551.34,776.84 551.65,777.61C551.97,778.39 552.28,779.16 552.59,779.94C552.90,780.71 553.20,781.49 553.51,782.27C553.81,783.04 554.11,783.82 554.41,784.60C554.71,785.38 555.01,786.16 555.30,786.94C555.59,787.72 555.89,788.50 556.17,789.29C556.46,790.07 556.75,790.85 557.03,791.64C557.32,792.42 557.60,793.21 557.88,793.99C558.15,794.78 558.43,795.57 558.70,796.36C558.97,797.14 559.24,797.93 559.51,798.72C559.78,799.51 560.04,800.30 560.31,801.10C560.57,801.89 560.83,802.68 561.09,803.47C561.34,804.27 561.60,805.06 561.85,805.86C562.10,806.65 562.35,807.45 562.59,808.25C562.84,809.04 563.08,809.84 563.32,810.64C563.56,811.44 563.80,812.24 564.04,813.04C564.27,813.84 564.50,814.64 564.73,815.44C564.96,816.25 565.19,817.05 565.41,817.85C565.64,818.66 565.86,819.46 566.07,820.27C566.29,821.07 566.51,821.88 566.72,822.69C566.93,823.50 567.14,824.31 567.35,825.11C567.56,825.92 567.76,826.73 567.96,827.55C568.16,828.36 568.36,829.17 568.56,829.98C568.75,830.79 568.94,831.61 569.13,832.42C569.32,833.24 569.51,834.05 569.69,834.87C569.88,835.69 570.06,836.50 570.24,837.32C570.41,838.14 570.59,838.96 570.76,839.78C570.93,840.60 571.10,841.42 571.27,842.24C571.44,843.06 571.60,843.88 571.76,844.71C571.92,845.53 572.08,846.35 572.24,847.18C572.39,848.00 572.54,848.83 572.69,849.65C572.84,850.48 572.99,851.30 573.13,852.13C573.28,852.96 573.42,853.79 573.56,854.61C573.69,855.44 573.83,856.27 573.96,857.10C574.10,857.93 574.23,858.76 574.35,859.59C574.48,860.42 574.60,861.25 574.73,862.09C574.85,862.92 574.97,863.75 575.08,864.58C575.20,865.42 575.31,866.25 575.42,867.09C575.53,867.92 575.64,868.76 575.75,869.59C575.85,870.43 575.95,871.26 576.05,872.10C576.15,872.94 576.25,873.77 576.34,874.61C576.44,875.45 576.53,876.28 576.62,877.12C576.71,877.96 576.79,878.80 576.88,879.64C576.96,880.48 577.04,881.32 577.12,882.16C577.20,883.00 577.27,883.84 577.34,884.68C577.42,885.52 577.49,886.36 577.55,887.20C577.62,888.04 577.69,888.89 577.75,889.73C577.81,890.57 577.87,891.41 577.93,892.25C577.98,893.10 578.04,893.94 578.09,894.78C578.14,895.63 578.19,896.47 578.23,897.31C578.28,898.16 578.32,899.00 578.36,899.85C578.40,900.69 578.44,901.54 578.48,902.38C578.51,903.23 578.55,904.07 578.58,904.92C578.61,905.76 578.64,906.61 578.66,907.45C578.69,908.30 578.71,909.14 578.73,909.99C578.75,910.83 578.77,911.68 578.78,912.53C578.80,913.37 578.81,914.22 578.82,915.06C578.83,915.91 578.84,916.76 578.84,917.60C578.85,918.45 578.82,919.31 578.85,920.14C578.88,920.94 578.97,921.45 579.00,922.50C579.07,924.61 579.00,928.83 579.00,932.00C580.47,934.13 581.81,936.02 583.40,938.40C585.35,941.33 587.57,945.03 589.80,948.30C592.07,951.63 594.44,955.16 596.90,958.20C599.19,961.03 601.29,963.69 604.00,966.00C606.83,968.41 610.07,970.46 613.60,972.30C617.47,974.31 622.07,976.28 626.40,977.40C630.57,978.48 632.81,978.59 639.10,979.00C657.03,980.18 723.24,978.24 743.00,979.60C750.93,980.15 754.09,980.84 759.60,981.80C765.15,982.77 770.44,984.36 776.20,985.40C782.37,986.52 788.31,987.62 795.50,988.20C804.49,988.92 813.20,988.55 826.00,988.70C847.74,988.95 884.67,989.10 914.00,989.30"/>
</g>
<g font-size="34.5" text-anchor="end">
<text x="85.8" y="24.7">5</text>
<text x="85.8" y="127.8">-5</text>
<text x="85.8" y="230.8">-15</text>
<text x="85.8" y="333.9">-25</text>
<text x="85.8" y="436.9">-35</text>
<text x="85.8" y="540.0">-45</text>
<text x="87.7" y="593.1">100</text>
<text x="87.7" y="678.0">80</text>
<text x="87.7" y="762.9">60</text>
<text x="87.7" y="847.8">40</text>
<text x="87.7" y="932.7">20</text>
<text x="87.7" y="1017.6">0</text>
</g>
<g font-size="34.5" text-anchor="middle">
<text x="122.9" y="1067">50</text>
<text x="235.6" y="1067">150</text>
<text x="348.2" y="1067">250</text>
<text x="460.9" y="1067">350</text>
<text x="573.5" y="1067">450</text>
<text x="686.2" y="1067">550</text>
<text x="798.8" y="1067">650</text>
<text x="911.5" y="1067">750</text>
</g>
<text x="384.2" y="1118.7" font-size="34.5" textLength="199.5" lengthAdjust="spacingAndGlyphs">Temperature</text>
<text x="593.0" y="1118.7" font-size="34.5">(</text>
<text x="604.0" y="1109.2" font-size="22">o</text>
<text x="618.0" y="1118.7" font-size="34.5" textLength="31.6" lengthAdjust="spacingAndGlyphs">C)</text>
<text transform="translate(27.7,273.6) rotate(-90)" font-size="34.5" text-anchor="middle" letter-spacing="0.4">Derivative (%/min)</text>
<text transform="translate(27.8,793.9) rotate(-90)" font-size="34.5" text-anchor="middle">Weight (%)</text>
<g stroke-width="4.4" stroke-linecap="round">
<line x1="609.9" y1="638.4" x2="662.1" y2="638.4" stroke="#4472C4"/>
<line x1="609.9" y1="701.1" x2="662.1" y2="701.1" stroke="#ED7D31"/>
<line x1="609.9" y1="763.9" x2="662.1" y2="763.9" stroke="#A5A5A5"/>
<line x1="609.9" y1="826.6" x2="662.1" y2="826.6" stroke="#548235"/>
</g>
<g font-size="34.5">
<text x="667.6" y="648.5" textLength="186.11" lengthAdjust="spacingAndGlyphs">AA charcoal</text>
<text x="667.6" y="711.2" textLength="197.96" lengthAdjust="spacingAndGlyphs">HM charcoal</text>
<text x="667.6" y="774.0" textLength="182.55" lengthAdjust="spacingAndGlyphs">PA charcoal</text>
<text x="667.6" y="836.8" textLength="182.39" lengthAdjust="spacingAndGlyphs">VP charcoal</text>
</g>
</svg>
</body></html>
